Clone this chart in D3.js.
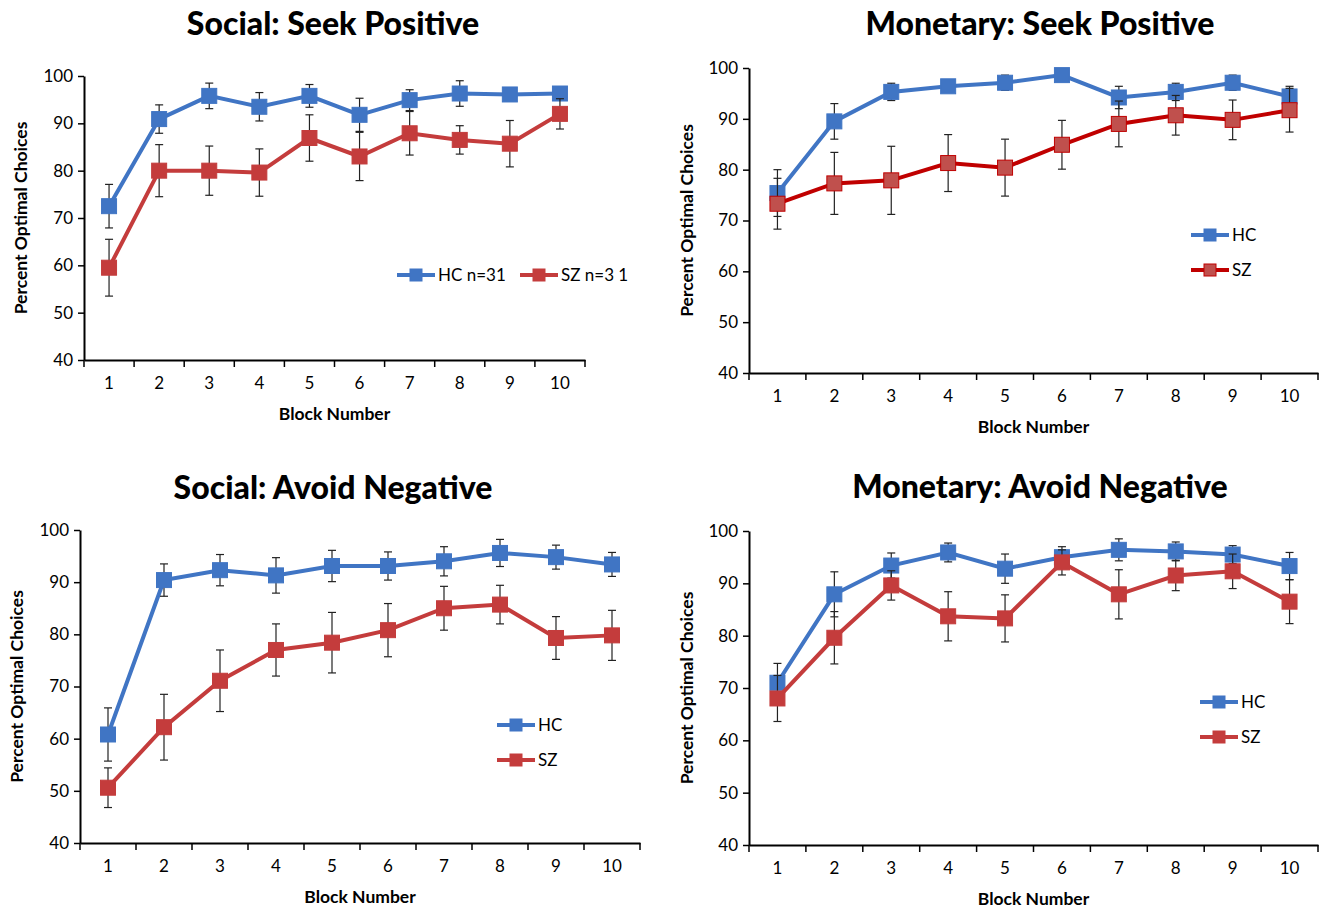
<!DOCTYPE html>
<html>
<head>
<meta charset="utf-8">
<script src="https://cdn.jsdelivr.net/npm/d3@7"></script>
<style>
  body { margin: 0; background: #fff; }
  svg text { font-family: Lato, "Open Sans", sans-serif; fill: #000; }
</style>
</head>
<body>
<div id="chart"></div>
<script>
var svgWidth = 1323;
var svgHeight = 909;

var blocks = ["1", "2", "3", "4", "5", "6", "7", "8", "9", "10"];
var yTicks = [40, 50, 60, 70, 80, 90, 100];

// Social: Seek Positive
var hcSocialSeek = [72.5, 90.9, 95.8, 93.5, 95.8, 91.8, 94.9, 96.3, 96.1, 96.3];
var hcSocialSeekErr = [4.6, 3.0, 2.7, 3.0, 2.4, 3.5, 2.2, 2.7, 1.3, 1.3];
var szSocialSeek = [59.5, 80.0, 80.0, 79.6, 86.9, 83.0, 87.9, 86.5, 85.7, 92.0];
var szSocialSeekErr = [6.0, 5.5, 5.2, 5.0, 4.9, 5.1, 4.6, 3.0, 4.9, 3.2];

// Monetary: Seek Positive
var hcMonetarySeek = [75.4, 89.5, 95.3, 96.4, 97.1, 98.6, 94.2, 95.3, 97.1, 94.4];
var hcMonetarySeekErr = [4.6, 3.5, 1.7, 1.2, 1.5, 0.5, 2.2, 1.7, 1.5, 2.0];
var szMonetarySeek = [73.3, 77.3, 77.9, 81.3, 80.4, 84.9, 89.0, 90.7, 89.8, 91.7];
var szMonetarySeekErr = [5.0, 6.1, 6.7, 5.6, 5.6, 4.8, 4.5, 3.9, 3.9, 4.3];

// Social: Avoid Negative
var hcSocialAvoid = [60.8, 90.4, 92.3, 91.3, 93.1, 93.1, 94.0, 95.6, 94.8, 93.4];
var hcSocialAvoidErr = [5.1, 3.1, 3.0, 3.4, 3.0, 2.7, 2.8, 2.6, 2.3, 2.3];
var szSocialAvoid = [50.6, 62.2, 71.1, 77.0, 78.4, 80.8, 85.0, 85.7, 79.3, 79.8];
var szSocialAvoidErr = [3.8, 6.3, 5.9, 5.0, 5.8, 5.1, 4.2, 3.7, 4.1, 4.8];

// Monetary: Avoid Negative
var hcMonetaryAvoid = [71.0, 87.9, 93.4, 95.9, 92.8, 95.0, 96.4, 96.1, 95.5, 93.3];
var hcMonetaryAvoidErr = [3.7, 4.3, 2.4, 1.8, 2.8, 2.0, 2.1, 1.8, 1.7, 2.6];
var szMonetaryAvoid = [68.0, 79.6, 89.6, 83.7, 83.3, 94.0, 87.9, 91.5, 92.3, 86.5];
var szMonetaryAvoidErr = [4.4, 5.0, 2.8, 4.7, 4.5, 2.4, 4.7, 2.9, 3.3, 4.2];

var blue = "#4075c4";
var red = "#c43c3c";

var panels = [
  { title: "Social: Seek Positive", left: 84, right: 585, top: 76, bottom: 360, titleX: 333, titleY: 35,
    yLabel: "Percent Optimal Choices", yLabelX: 21,
    hc: hcSocialSeek, hcErr: hcSocialSeekErr, sz: szSocialSeek, szErr: szSocialSeekErr,
    hcName: "HC  n=31", szName: "SZ  n=3 1", legend: [{x: 397, y: 275}, {x: 520, y: 275}],
    szLine: red, szFill: red },
  { title: "Monetary: Seek Positive", left: 749, right: 1318, top: 68, bottom: 373, titleX: 1040, titleY: 35,
    yLabel: "Percent Optimal Choices", yLabelX: 687,
    hc: hcMonetarySeek, hcErr: hcMonetarySeekErr, sz: szMonetarySeek, szErr: szMonetarySeekErr,
    hcName: "HC", szName: "SZ", legend: [{x: 1191, y: 235}, {x: 1191, y: 270}],
    szLine: "#c00000", szFill: "#c0504d" },
  { title: "Social: Avoid Negative", left: 80, right: 640, top: 530, bottom: 843, titleX: 333, titleY: 499,
    yLabel: "Percent Optimal Choices", yLabelX: 17,
    hc: hcSocialAvoid, hcErr: hcSocialAvoidErr, sz: szSocialAvoid, szErr: szSocialAvoidErr,
    hcName: "HC", szName: "SZ", legend: [{x: 497, y: 725}, {x: 497, y: 760}],
    szLine: red, szFill: red },
  { title: "Monetary: Avoid Negative", left: 749, right: 1318, top: 531, bottom: 845, titleX: 1040, titleY: 498,
    yLabel: "Percent  Optimal Choices", yLabelX: 687,
    hc: hcMonetaryAvoid, hcErr: hcMonetaryAvoidErr, sz: szMonetaryAvoid, szErr: szMonetaryAvoidErr,
    hcName: "HC", szName: "SZ", legend: [{x: 1200, y: 702}, {x: 1200, y: 737}],
    szLine: red, szFill: red }
];

var svg = d3.select("#chart")
  .append("svg")
  .attr("width", svgWidth)
  .attr("height", svgHeight);

panels.forEach(function(p) {
  var g = svg.append("g");

  var x = d3.scaleBand().domain(blocks).range([p.left, p.right]);
  var y = d3.scaleLinear().domain([40, 100]).range([p.bottom, p.top]);
  var cx = function(i) { return x(blocks[i]) + x.bandwidth() / 2; };

  // title
  g.append("text")
    .attr("x", p.titleX)
    .attr("y", p.titleY)
    .attr("text-anchor", "middle")
    .attr("font-size", "32px")
    .attr("font-weight", "900")
    .text(p.title);

  // y axis
  var leftAxis = d3.axisLeft(y).tickValues(yTicks).tickSize(6).tickSizeOuter(0).tickPadding(5);
  var yAxisG = g.append("g")
    .attr("transform", `translate(${p.left}, 0)`)
    .call(leftAxis);
  yAxisG.select(".domain").attr("stroke", "#000").attr("stroke-width", 2);
  yAxisG.selectAll(".tick line").attr("stroke", "#000").attr("stroke-width", 1.5);
  yAxisG.selectAll(".tick text").attr("font-size", "17px").attr("font-family", "Lato, sans-serif").attr("fill", "#000");

  // x axis: labels in band centres, ticks on band edges
  var bottomAxis = d3.axisBottom(x).tickSize(0).tickPadding(17);
  var xAxisG = g.append("g")
    .attr("transform", `translate(0, ${p.bottom})`)
    .call(bottomAxis);
  xAxisG.select(".domain").attr("stroke", "#000").attr("stroke-width", 2);
  xAxisG.selectAll(".tick text").attr("font-size", "17px").attr("font-family", "Lato, sans-serif").attr("fill", "#000");
  var edges = blocks.map(function(b) { return x(b); }).concat([p.right]);
  xAxisG.selectAll(".edge")
    .data(edges)
    .enter()
    .append("line")
    .attr("x1", d => d)
    .attr("x2", d => d)
    .attr("y1", 0)
    .attr("y2", 7)
    .attr("stroke", "#000")
    .attr("stroke-width", 1.5);

  // axis titles
  g.append("text")
    .attr("x", (p.left + p.right) / 2)
    .attr("y", p.bottom + 60)
    .attr("text-anchor", "middle")
    .attr("font-size", "17.5px")
    .attr("font-weight", "bold")
    .text("Block Number");

  g.append("text")
    .attr("transform", `translate(${p.yLabelX}, ${(p.top + p.bottom) / 2}) rotate(-90)`)
    .attr("text-anchor", "middle")
    .attr("dy", "0.35em")
    .attr("font-size", "17.5px")
    .attr("font-weight", "bold")
    .text(p.yLabel);

  var series = [
    { vals: p.hc, err: p.hcErr, line: blue, fill: blue },
    { vals: p.sz, err: p.szErr, line: p.szLine, fill: p.szFill }
  ];

  var line = d3.line()
    .x(function(d, i) { return cx(i); })
    .y(function(d) { return y(d); });

  series.forEach(function(s) {
    g.append("path")
      .datum(s.vals)
      .attr("d", line)
      .attr("fill", "none")
      .attr("stroke", s.line)
      .attr("stroke-width", 4);

    var bars = g.selectAll(null).data(s.vals).enter().append("g");
    bars.append("line")
      .attr("x1", (d, i) => cx(i)).attr("x2", (d, i) => cx(i))
      .attr("y1", (d, i) => y(d - s.err[i])).attr("y2", (d, i) => y(d + s.err[i]))
      .attr("stroke", "#222").attr("stroke-width", 1.2);
    [-1, 1].forEach(function(sign) {
      bars.append("line")
        .attr("x1", (d, i) => cx(i) - 4).attr("x2", (d, i) => cx(i) + 4)
        .attr("y1", (d, i) => y(d + sign * s.err[i])).attr("y2", (d, i) => y(d + sign * s.err[i]))
        .attr("stroke", "#222").attr("stroke-width", 1.2);
    });

    g.selectAll(null).data(s.vals).enter().append("rect")
      .attr("x", (d, i) => cx(i) - 7.5)
      .attr("y", d => y(d) - 7.5)
      .attr("width", 15)
      .attr("height", 15)
      .attr("fill", s.fill)
      .attr("stroke", s.line)
      .attr("stroke-width", 1);
  });

  // legend
  [{ name: p.hcName, s: series[0] }, { name: p.szName, s: series[1] }].forEach(function(item, k) {
    var pos = p.legend[k];
    var lg = g.append("g").attr("transform", `translate(${pos.x}, ${pos.y})`);
    lg.append("line")
      .attr("x1", 0).attr("x2", 38).attr("y1", 0).attr("y2", 0)
      .attr("stroke", item.s.line).attr("stroke-width", 4);
    lg.append("rect")
      .attr("x", 13).attr("y", -6).attr("width", 12).attr("height", 12)
      .attr("fill", item.s.fill).attr("stroke", item.s.line);
    lg.append("text")
      .attr("x", 41).attr("y", 0).attr("dy", "0.35em")
      .attr("font-size", "17px")
      .text(item.name);
  });
});
</script>
</body>
</html>
